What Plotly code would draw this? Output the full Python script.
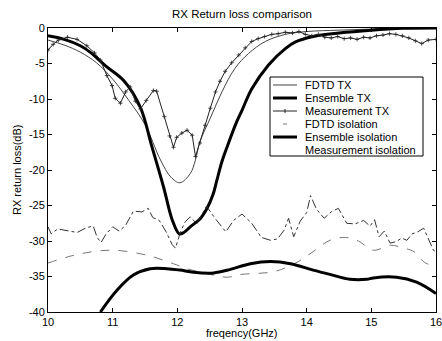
import plotly.graph_objects as go

# ---------------- data ----------------
fdtd_tx_f = [10.0, 10.25, 10.5, 10.75, 11.0, 11.25, 11.5, 11.74, 11.9, 12.04, 12.2, 12.28,
             12.35, 12.51, 12.69, 12.89, 13.1, 13.36, 13.67, 14.0, 14.5, 15.0, 15.5, 16.0]
fdtd_tx_db = [-1.7, -2.4, -3.4, -4.9, -7.2, -10.2, -13.6, -18.6, -21.0, -21.8, -20.5, -18.6,
              -16.0, -12.7, -9.0, -5.7, -3.6, -1.9, -0.9, -0.5, -0.3, -0.15, -0.05, 0.0]

ens_tx_f = [10.0, 10.25, 10.5, 10.65, 10.9, 11.17, 11.43, 11.6, 11.79, 11.92, 12.03, 12.1,
            12.2, 12.35, 12.46, 12.55, 12.61, 12.69, 12.8, 12.9, 13.0, 13.15, 13.41, 13.67,
            13.82, 14.1, 14.5, 15.0, 15.5, 16.0]
ens_tx_db = [-1.1, -1.6, -2.5, -3.4, -5.4, -7.4, -11.2, -16.5, -22.5, -27.0, -29.0, -28.8,
             -28.0, -26.9, -25.4, -23.5, -21.5, -18.8, -16.0, -13.6, -11.6, -8.6, -5.2, -2.9,
             -2.0, -1.2, -0.7, -0.3, -0.05, 0.0]

meas_tx_f = [10.0, 10.08, 10.16, 10.3, 10.45, 10.6, 10.72, 10.81, 10.91, 10.99, 11.04, 11.12,
             11.2, 11.27, 11.35, 11.43, 11.52, 11.63, 11.68, 11.8, 11.88, 11.94, 11.99, 12.07,
             12.15, 12.23, 12.28, 12.35, 12.43, 12.51, 12.59, 12.66, 12.74, 12.84, 12.95, 13.05,
             13.15, 13.25, 13.35, 13.46, 13.56, 13.67, 13.78, 13.88, 13.98, 14.08, 14.18, 14.28,
             14.38, 14.48, 14.58, 14.68, 14.78, 14.88, 14.98, 15.08, 15.18, 15.28, 15.38, 15.48,
             15.58, 15.68, 15.78, 15.88, 16.0]
meas_tx_db = [-3.1, -2.3, -1.7, -1.3, -1.6, -2.5, -3.5, -4.5, -6.7, -8.1, -9.9, -10.6,
              -9.0, -8.3, -10.3, -11.4, -10.2, -8.8, -8.9, -12.5, -15.2, -16.8, -15.4, -14.8,
              -14.4, -15.1, -18.1, -16.2, -13.7, -11.3, -9.0, -7.5, -6.1, -4.9, -3.8, -2.8,
              -1.9, -1.5, -1.2, -0.9, -0.8, -0.6, -0.7, -0.5, -0.9, -1.1, -0.9, -1.3,
              -1.4, -1.2, -1.5, -1.4, -1.6, -1.3, -1.4, -1.1, -1.0, -0.8, -0.9, -1.1,
              -1.4, -1.8, -2.2, -1.7, -1.6]

fdtd_iso_f = [10.0, 10.5, 11.0, 11.53, 11.94, 12.15, 12.56, 12.77, 13.0, 13.5, 13.85, 14.1,
              14.36, 14.6, 14.8, 15.03, 15.3, 15.5, 15.66, 15.82, 16.0]
fdtd_iso_db = [-33.1, -31.8, -31.3, -32.0, -33.2, -33.9, -34.8, -35.1, -34.7, -34.3, -33.0, -31.5,
               -29.9, -29.5, -30.0, -31.3, -30.6, -31.0, -31.5, -33.0, -33.6]

ens_iso_f = [10.81, 11.07, 11.32, 11.58, 11.84, 12.04, 12.25, 12.56, 12.82, 13.13, 13.44, 13.75,
             14.1, 14.36, 14.67, 14.93, 15.03, 15.39, 15.7, 16.0]
ens_iso_db = [-40.0, -36.9, -34.8, -33.9, -33.9, -34.1, -34.4, -34.5, -34.0, -33.2, -32.9, -33.2,
              -34.1, -34.7, -35.4, -35.4, -35.2, -35.1, -35.8, -37.4]

meas_iso_f = [10.0, 10.05, 10.15, 10.3, 10.45, 10.6, 10.7, 10.76, 10.82, 10.9, 11.0, 11.1,
              11.2, 11.32, 11.45, 11.55, 11.62, 11.72, 11.82, 11.92, 11.97, 12.05, 12.12, 12.2,
              12.3, 12.45, 12.6, 12.75, 12.87, 13.0, 13.15, 13.3, 13.44, 13.55, 13.65, 13.72,
              13.8, 13.9, 14.0, 14.06, 14.15, 14.27, 14.38, 14.49, 14.62, 14.75, 14.88, 14.98,
              15.05, 15.12, 15.2, 15.29, 15.38, 15.47, 15.55, 15.63, 15.72, 15.81, 15.9, 15.96, 16.0]
meas_iso_db = [-28.0, -29.0, -28.3, -28.5, -28.8, -28.1, -27.9, -29.5, -30.2, -29.0, -28.0, -28.6,
               -27.8, -25.8, -25.9, -25.4, -26.7, -27.1, -28.6, -30.5, -31.0, -28.7, -27.3, -26.6,
               -27.6, -25.1, -27.0, -28.7, -27.1, -26.2, -27.5, -29.5, -29.9, -29.7, -28.5, -26.8,
               -29.4, -27.2, -26.0, -23.6, -25.5, -26.8, -25.9, -25.4, -27.5, -27.6, -27.1, -27.9,
               -27.0, -29.4, -28.6, -30.3, -30.1, -29.6, -29.9, -29.0, -28.7, -28.2, -30.0, -31.3, -31.5]

series_names = ["FDTD TX", "Ensemble TX", "Measurement TX",
                "FDTD isolation", "Ensemble isolation", "Measurement isolation"]

x_ticks = [10, 11, 12, 13, 14, 15, 16]
y_ticks = [0, -5, -10, -15, -20, -25, -30, -35, -40]
y_tick_text = ["0", "-5", "-10", "-15", "-20", "-25", "-30", "-35", "-40"]

title_text = "RX Return loss comparison"
x_title = "freqency(GHz)"
y_title = "RX return loss(dB)"

# ---------------- styles ----------------
FONT = "Liberation Sans, Arial, sans-serif"
styles = [
    dict(color="#444444", width=1.0, dash="solid", shape="spline", marker=False),
    dict(color="#000000", width=3.0, dash="solid", shape="spline", marker=False),
    dict(color="#222222", width=1.0, dash="solid", shape="linear", marker=True),
    dict(color="#777777", width=1.0, dash="dash", shape="spline", marker=False),
    dict(color="#000000", width=3.0, dash="solid", shape="spline", marker=False),
    dict(color="#333333", width=1.0, dash="dashdot", shape="linear", marker=False),
]
data = [(fdtd_tx_f, fdtd_tx_db), (ens_tx_f, ens_tx_db), (meas_tx_f, meas_tx_db),
        (fdtd_iso_f, fdtd_iso_db), (ens_iso_f, ens_iso_db), (meas_iso_f, meas_iso_db)]

fig = go.Figure()
for (xs, ys), st, name in zip(data, styles, series_names):
    kw = dict(x=xs, y=ys, name=name, showlegend=False,
              line=dict(color=st["color"], width=st["width"], dash=st["dash"], shape=st["shape"]))
    if st["marker"]:
        kw["mode"] = "lines+markers"
        kw["marker"] = dict(symbol="cross-thin", size=3, line=dict(color=st["color"], width=0.8))
    else:
        kw["mode"] = "lines"
    fig.add_trace(go.Scatter(**kw))

# ---------------- manual legend (compact, like the original) ----------------
L, T, W, H = 48, 28, 388, 284


def px(xp):
    return (xp - L) / W


def py(yp):
    return 1 - (yp - T) / H


shapes = [dict(type="rect", xref="paper", yref="paper",
               x0=px(270), x1=px(423), y0=py(156), y1=py(77),
               line=dict(color="black", width=1), fillcolor="white", layer="above")]
annotations = []
for i, (name, st) in enumerate(zip(series_names, styles)):
    yc = 85 + 13 * i
    if name == "FDTD isolation":
        x0s, x1s = 283, 287
    elif name == "Measurement isolation":
        x0s, x1s = None, None
    else:
        x0s, x1s = 273, 297
    if x0s is not None:
        shapes.append(dict(type="line", xref="paper", yref="paper",
                           x0=px(x0s), x1=px(x1s), y0=py(yc), y1=py(yc),
                           line=dict(color=st["color"], width=st["width"]), layer="above"))
    if st["marker"]:
        shapes.append(dict(type="line", xref="paper", yref="paper",
                           x0=px(285), x1=px(285), y0=py(yc - 2), y1=py(yc + 2),
                           line=dict(color=st["color"], width=1), layer="above"))
    annotations.append(dict(text=name, xref="paper", yref="paper", x=px(303), y=py(yc),
                            xanchor="left", yanchor="middle", showarrow=False,
                            font=dict(family=FONT, size=11, color="black")))

annotations.append(dict(text=x_title, xref="paper", yref="paper", x=0.5, y=py(333),
                        xanchor="center", yanchor="middle", showarrow=False,
                        font=dict(family=FONT, size=11, color="black")))
annotations.append(dict(text=y_title, xref="paper", yref="paper", x=px(17), y=0.5,
                        xanchor="center", yanchor="middle", showarrow=False, textangle=-90,
                        font=dict(family=FONT, size=11, color="black")))
annotations.append(dict(text=title_text, xref="paper", yref="paper", x=0.5, y=py(14),
                        xanchor="center", yanchor="middle", showarrow=False,
                        font=dict(family=FONT, size=11.5, color="black")))

axis_common = dict(showgrid=False, zeroline=False, showline=True, linecolor="black",
                   linewidth=1, mirror="ticks", ticks="inside", ticklen=4, tickcolor="black",
                   ticklabeloverflow="allow",
                   tickfont=dict(family=FONT, size=11, color="black"))

fig.update_layout(
    width=442, height=341,
    margin=dict(l=L, r=442 - L - W, t=T, b=341 - T - H, autoexpand=False),
    paper_bgcolor="white", plot_bgcolor="white",
    shapes=shapes, annotations=annotations,
    xaxis=dict(range=[10, 16], tickvals=x_ticks, **axis_common),
    yaxis=dict(range=[-40, 0], tickvals=y_ticks, ticktext=y_tick_text, **axis_common),
    showlegend=False,
)

fig.write_html("out.html")
